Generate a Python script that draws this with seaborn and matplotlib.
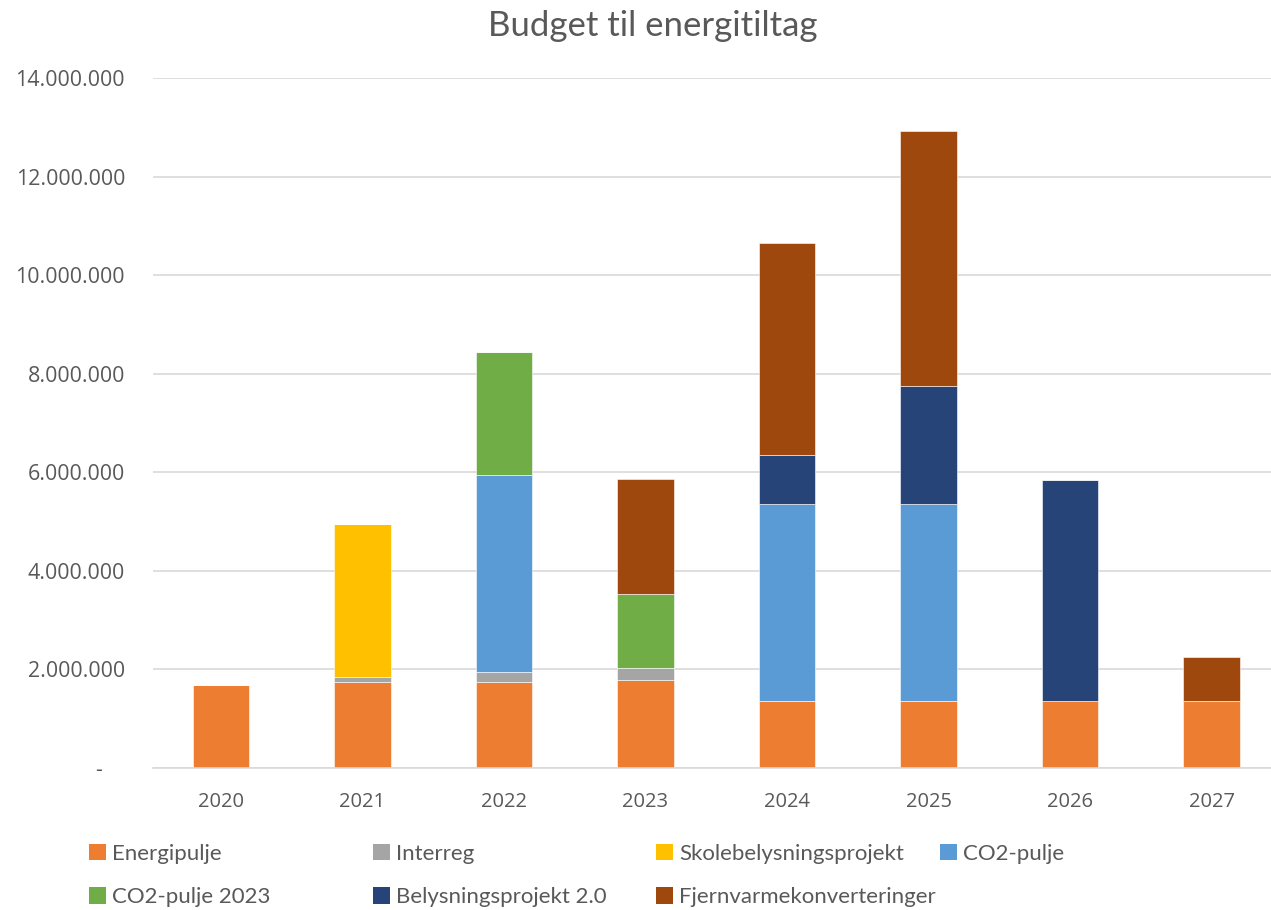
import matplotlib
matplotlib.use("Agg")
import matplotlib.pyplot as plt
import seaborn as sns
import pandas as pd
from matplotlib.patches import Patch
from matplotlib.ticker import FuncFormatter

years = ["2020", "2021", "2022", "2023", "2024", "2025", "2026", "2027"]
series_names = ["Energipulje", "Interreg", "Skolebelysningsprojekt", "CO2-pulje",
                "CO2-pulje 2023", "Belysningsprojekt 2.0", "Fjernvarmekonverteringer"]
energipulje = [1690000, 1750000, 1750000, 1790000, 1350000, 1350000, 1350000, 1350000]
interreg = [0, 90000, 190000, 230000, 0, 0, 0, 0]
skolebelysning = [0, 3120000, 0, 0, 0, 0, 0, 0]
co2_pulje = [0, 0, 4000000, 0, 4000000, 4000000, 0, 0]
co2_pulje_2023 = [0, 0, 2500000, 1510000, 0, 0, 0, 0]
belysning_20 = [0, 0, 0, 0, 1000000, 2400000, 4490000, 0]
fjernvarme = [0, 0, 0, 2330000, 4300000, 5170000, 0, 900000]
colors = ["#ED7D31", "#A5A5A5", "#FFC000", "#5B9BD5", "#70AD47", "#264478", "#9E480E"]

data = [energipulje, interreg, skolebelysning, co2_pulje, co2_pulje_2023, belysning_20, fjernvarme]

sns.set_theme(style="white")
plt.rcParams["font.family"] = ["Open Sans", "DejaVu Sans"]
textc = "#595959"

fig = plt.figure(figsize=(12.71, 9.10), dpi=100)
W, H = 1271, 910
ax = fig.add_axes([152.7 / W, 1 - 768 / H, (1271 - 152.7) / W, (768 - 78) / H])

bottom = [0] * len(years)
for name, vals, col in zip(series_names, data, colors):
    df = pd.DataFrame({"year": years, "value": vals})
    sns.barplot(data=df, x="year", y="value", order=years, color=col, saturation=1,
                width=0.4, bottom=bottom, ax=ax, edgecolor="white", linewidth=0.4)
    bottom = [b + v for b, v in zip(bottom, vals)]

ax.set_xlim(-0.483, 7.42)
ax.set_ylim(0, 14000000)
ax.set_yticks(range(0, 14000001, 2000000))

def fmt(v, pos):
    if v == 0:
        return "-    "
    return f"{int(v):,}".replace(",", ".")

ax.yaxis.set_major_formatter(FuncFormatter(fmt))
ax.grid(axis="y", color="#D9D9D9", linewidth=1.2)
ax.set_axisbelow(True)
for s in ["left", "right", "top"]:
    ax.spines[s].set_visible(False)
ax.spines["bottom"].set_color("#D9D9D9")
ax.spines["bottom"].set_linewidth(1.2)
ax.tick_params(axis="y", length=0, pad=20, labelsize=15.4, labelcolor=textc)
ax.tick_params(axis="x", length=0, pad=17, labelsize=14.5, labelcolor=textc)
ax.set_xlabel("")
ax.set_ylabel("")

fig.text(653 / W, 1 - 26 / H, "Budget til energitiltag", ha="center", va="center",
         fontsize=25, color=textc, family=["Lato", "DejaVu Sans"])

handles = [Patch(facecolor=c, edgecolor="none") for c in colors]
col_x = [89, 373, 656, 940]
for j in range(4):
    idx = [j, j + 4] if j + 4 < len(series_names) else [j]
    leg = fig.legend([handles[i] for i in idx], [series_names[i] for i in idx],
                     loc="upper left", bbox_to_anchor=(col_x[j] / W, 1 - 844 / H),
                     frameon=False, handlelength=0.75, handleheight=0.75,
                     handletextpad=0.3, labelspacing=1.05, borderpad=0, borderaxespad=0,
                     prop={"family": ["Lato", "DejaVu Sans"], "size": 16})
    for t in leg.get_texts():
        t.set_color(textc)

fig.savefig("out.png", dpi=100)
